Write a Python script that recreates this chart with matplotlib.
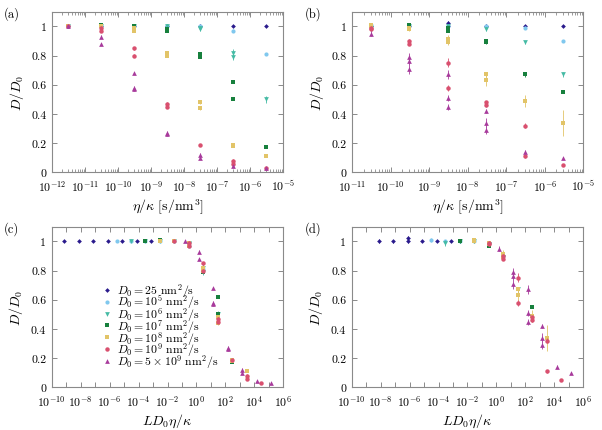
import numpy as np
import matplotlib
matplotlib.use("Agg")
import matplotlib.pyplot as plt
from matplotlib.lines import Line2D
from matplotlib.ticker import FixedLocator, FuncFormatter, NullFormatter, LogLocator

plt.rcParams['font.family'] = 'serif'
plt.rcParams['font.serif'] = ['cmr10', 'DejaVu Serif']
plt.rcParams['mathtext.fontset'] = 'cm'
plt.rcParams['axes.formatter.use_mathtext'] = True
plt.rcParams['axes.unicode_minus'] = False

# diffusion constants of the series (nm^2/s) and the length scale L (nm)
D0_VALUES = [25, 1e5, 1e6, 1e7, 1e8, 1e9, 5e9]
L_NM = 10
LABELS = [r'$D_0 = 25\ \mathrm{nm}^2/\mathrm{s}$',
          r'$D_0 = 10^5\ \mathrm{nm}^2/\mathrm{s}$',
          r'$D_0 = 10^6\ \mathrm{nm}^2/\mathrm{s}$',
          r'$D_0 = 10^7\ \mathrm{nm}^2/\mathrm{s}$',
          r'$D_0 = 10^8\ \mathrm{nm}^2/\mathrm{s}$',
          r'$D_0 = 10^9\ \mathrm{nm}^2/\mathrm{s}$',
          r'$D_0 = 5\times 10^9\ \mathrm{nm}^2/\mathrm{s}$']
COLORS = ['#2a1a8c', '#80c8ee', '#45bba5', '#17803d', '#e2c468', '#d9506f', '#a83b9c']
MARKERS = ['D', 'o', 'v', 's', 's', 'o', '^']
MSIZES = [2.4, 3.0, 3.4, 3.2, 3.2, 3.2, 3.4]

# panel (a): eta/kappa (s/nm^3), D/D0 and error per series
ETA_A = [
    [3e-12, 3e-11, 3e-10, 3e-9, 3e-8, 3e-7, 3e-6],
    [3e-12, 3e-11, 3e-10, 3e-9, 3e-8, 3e-7, 3e-6],
    [3e-12, 3e-11, 3e-10, 3e-9, 3e-8, 3e-8, 3e-7, 3e-7, 3e-6],
    [3e-12, 3e-11, 3e-10, 3e-9, 3e-9, 3e-8, 3e-8, 3e-7, 3e-7, 3e-6],
    [3e-12, 3e-11, 3e-10, 3e-10, 3e-9, 3e-9, 3e-8, 3e-8, 3e-7, 3e-7, 3e-6],
    [3e-12, 3e-11, 3e-11, 3e-10, 3e-10, 3e-9, 3e-9, 3e-8, 3e-7, 3e-7, 3e-6],
    [3e-12, 3e-11, 3e-11, 3e-10, 3e-10, 3e-10, 3e-9, 3e-9, 3e-8, 3e-8, 3e-7, 3e-6],
]
D_A = [
    [1.0, 1.0, 1.0, 1.0, 1.0, 1.0, 1.0],
    [1.0, 1.0, 1.0, 1.0, 1.0, 0.97, 0.81],
    [1.0, 1.0, 1.0, 1.0, 0.99, 0.98, 0.82, 0.79, 0.50],
    [1.0, 1.01, 1.0, 0.98, 0.97, 0.81, 0.79, 0.62, 0.50, 0.17],
    [1.0, 1.0, 0.99, 0.97, 0.82, 0.80, 0.48, 0.44, 0.19, 0.18, 0.11],
    [1.0, 0.99, 0.97, 0.85, 0.80, 0.47, 0.45, 0.19, 0.08, 0.06, 0.03],
    [1.0, 0.93, 0.88, 0.68, 0.58, 0.57, 0.27, 0.26, 0.12, 0.10, 0.04, 0.03],
]
ERR_A = [
    [0, 0, 0, 0, 0, 0, 0],
    [0, 0, 0, 0, 0, 0.01, 0],
    [0, 0, 0, 0, 0.01, 0.01, 0.025, 0.02, 0.025],
    [0, 0.005, 0, 0.01, 0.01, 0.01, 0.01, 0.01, 0.005, 0.005],
    [0, 0, 0.01, 0.01, 0.01, 0.01, 0.01, 0.01, 0.01, 0.01, 0.005],
    [0, 0.01, 0.01, 0.01, 0.01, 0.01, 0.01, 0.005, 0.01, 0.01, 0.005],
    [0, 0.01, 0.005, 0.01, 0.01, 0.01, 0.01, 0.01, 0.01, 0.01, 0.005, 0.005],
]

# panel (b)
ETA_B = [
    [3e-11, 3e-10, 3e-9, 3e-9, 3e-8, 3e-7, 3e-6],
    [3e-11, 3e-10, 3e-9, 3e-8, 3e-7, 3e-6],
    [3e-11, 3e-10, 3e-9, 3e-8, 3e-7, 3e-6],
    [3e-11, 3e-10, 3e-9, 3e-9, 3e-8, 3e-8, 3e-7, 3e-6],
    [3e-11, 3e-11, 3e-10, 3e-10, 3e-9, 3e-9, 3e-8, 3e-8, 3e-7, 3e-6],
    [3e-11, 3e-11, 3e-10, 3e-10, 3e-9, 3e-9, 3e-8, 3e-8, 3e-7, 3e-7, 3e-6],
    [3e-11, 3e-10, 3e-10, 3e-10, 3e-9, 3e-9, 3e-9, 3e-8, 3e-8, 3e-8, 3e-7, 3e-6],
]
D_B = [
    [1.0, 1.0, 1.02, 1.0, 1.0, 1.0, 1.0],
    [1.01, 1.0, 1.0, 1.0, 0.99, 0.90],
    [0.99, 1.0, 1.0, 0.98, 0.89, 0.67],
    [1.0, 1.01, 0.99, 0.97, 0.90, 0.89, 0.67, 0.55],
    [1.01, 1.0, 0.99, 0.98, 0.91, 0.89, 0.67, 0.63, 0.49, 0.34],
    [0.99, 0.98, 0.90, 0.88, 0.75, 0.58, 0.48, 0.46, 0.32, 0.11, 0.05],
    [0.95, 0.79, 0.76, 0.71, 0.67, 0.51, 0.45, 0.42, 0.34, 0.29, 0.14, 0.10],
]
ERR_B = [
    [0.015, 0.01, 0.015, 0.01, 0.005, 0.005, 0.005],
    [0.015, 0.01, 0.01, 0.01, 0.01, 0.005],
    [0.02, 0.01, 0.01, 0.015, 0.01, 0.015],
    [0.01, 0.01, 0.01, 0.01, 0.01, 0.01, 0.015, 0.01],
    [0.01, 0.01, 0.01, 0.01, 0.03, 0.02, 0.015, 0.04, 0.04, 0.09],
    [0.01, 0.01, 0.01, 0.01, 0.03, 0.02, 0.01, 0.01, 0.015, 0.01, 0.005],
    [0.015, 0.03, 0.02, 0.04, 0.03, 0.02, 0.02, 0.015, 0.03, 0.03, 0.01, 0.005],
]

BORDER = '#8a8a8a'


def style_axis(ax, xlim, every_other):
    ax.set_xscale('log')
    ax.set_xlim(*xlim)
    ax.set_ylim(0, 1.1)
    ax.set_yticks([0, 0.2, 0.4, 0.6, 0.8, 1.0])
    ax.set_yticklabels(['0', '0.2', '0.4', '0.6', '0.8', '1'])
    lo, hi = int(np.log10(xlim[0])), int(np.log10(xlim[1]))
    decades = [10.0 ** k for k in range(lo, hi + 1)]
    ax.xaxis.set_major_locator(FixedLocator(decades))

    def fmt(v, pos):
        k = int(round(np.log10(v)))
        if every_other and k % 2:
            return ''
        return r'$10^{%d}$' % k
    ax.xaxis.set_major_formatter(FuncFormatter(fmt))
    if every_other:
        ax.xaxis.set_minor_locator(FixedLocator([]))
    else:
        ax.xaxis.set_minor_locator(LogLocator(base=10, subs=(2, 3, 4, 5, 6, 7, 8, 9), numticks=50))
        ax.xaxis.set_minor_formatter(NullFormatter())
    ax.tick_params(which='both', direction='in', top=True, right=True,
                   color=BORDER, labelsize=8.5, pad=4)
    ax.tick_params(which='major', length=3.5, width=0.7)
    ax.tick_params(which='minor', length=2, width=0.6)
    for sp in ax.spines.values():
        sp.set_color(BORDER)
        sp.set_linewidth(0.8)
    ax.set_ylabel(r'$D/D_0$', fontsize=10, labelpad=4)


def draw(ax, etas, ds, errs, scaled):
    for i in range(len(D0_VALUES)):
        x = np.array(etas[i])
        if scaled:
            x = x * L_NM * D0_VALUES[i]
        ax.errorbar(x, ds[i], yerr=errs[i], fmt=MARKERS[i], color=COLORS[i],
                    ms=MSIZES[i], mew=0, elinewidth=0.6, capsize=1.5, capthick=0.6,
                    zorder=3 + i)


fig = plt.figure(figsize=(6.02, 4.31), dpi=100)
W, H = 602.0, 431.0
ax_a = fig.add_axes([52.3 / W, 1 - 173.3 / H, 231 / W, 160.6 / H])
ax_b = fig.add_axes([352.3 / W, 1 - 173.3 / H, 231 / W, 160.6 / H])
ax_c = fig.add_axes([51.7 / W, 1 - 388.3 / H, 231.6 / W, 160.6 / H])
ax_d = fig.add_axes([351.7 / W, 1 - 388.3 / H, 231.6 / W, 160.6 / H])

draw(ax_a, ETA_A, D_A, ERR_A, False)
style_axis(ax_a, (1e-12, 1e-5), False)
ax_a.set_xlabel(r'$\eta/\kappa\ [\mathrm{s/nm}^3]$', fontsize=10, labelpad=3)

draw(ax_b, ETA_B, D_B, ERR_B, False)
style_axis(ax_b, (1e-11, 1e-5), False)
ax_b.set_xlabel(r'$\eta/\kappa\ [\mathrm{s/nm}^3]$', fontsize=10, labelpad=3)

draw(ax_c, ETA_A, D_A, ERR_A, True)
style_axis(ax_c, (1e-10, 1e6), True)
ax_c.set_xlabel(r'$LD_0\eta/\kappa$', fontsize=10, labelpad=3)
handles = [Line2D([], [], ls='none', marker=MARKERS[i], color=COLORS[i],
                  ms=MSIZES[i], mew=0) for i in range(len(D0_VALUES))]
ax_c.legend(handles, LABELS, loc='upper left', bbox_to_anchor=(0.225, 0.66), frameon=False,
            fontsize=8.5, handlelength=0.6, handletextpad=0.5, labelspacing=-0.52,
            borderpad=0, borderaxespad=0)

draw(ax_d, ETA_B, D_B, ERR_B, True)
style_axis(ax_d, (1e-10, 1e6), True)
ax_d.set_xlabel(r'$LD_0\eta/\kappa$', fontsize=10, labelpad=3)

for txt, px, py in [('(a)', 4, 14), ('(b)', 305, 14), ('(c)', 4, 229), ('(d)', 305, 229)]:
    fig.text(px / W, 1 - py / H, txt, fontsize=9, va='center', ha='left')

fig.savefig('out.png', dpi=100)
